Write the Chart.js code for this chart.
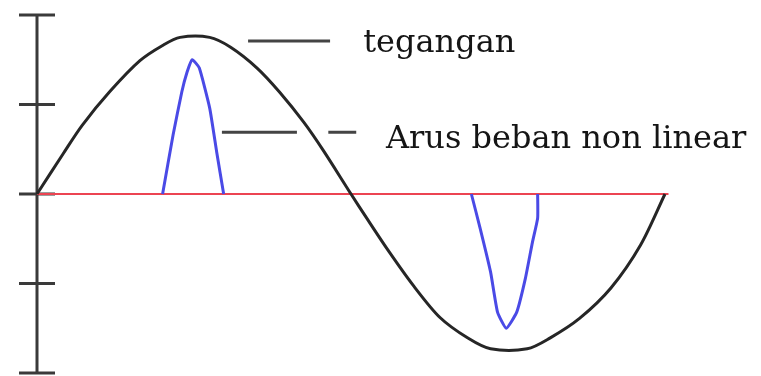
<!DOCTYPE html>
<html>
<head>
<meta charset="utf-8">
<script src="https://cdn.jsdelivr.net/npm/chart.js@4.4.1/dist/chart.umd.min.js"></script>
<style>
  html, body { margin: 0; padding: 0; background: #fff; }
</style>
</head>
<body>
<canvas id="wave" width="761" height="376"></canvas>
<script>
// x = phase angle (degrees), y = amplitude in axis divisions
const voltageX = [0, 15, 26, 42, 59, 72, 82, 99, 111, 126, 139, 153, 164, 180, 189, 202, 216, 231, 247, 260, 281, 294, 311, 329, 346, 360];
const voltageY = [0, 0.45, 0.77, 1.15, 1.49, 1.66, 1.75, 1.75, 1.64, 1.41, 1.14, 0.80, 0.49, 0, -0.27, -0.65, -1.03, -1.38, -1.61, -1.73, -1.73, -1.61, -1.39, -1.05, -0.57, 0];

// current pulses of the non linear load
const currentPosX = [72, 78, 83, 86, 89, 93, 99, 103, 107];
const currentPosY = [0, 0.66, 1.14, 1.36, 1.50, 1.41, 0.96, 0.47, 0];
const currentNegX = [249, 254, 260, 264, 269, 275, 280, 284, 287, 287];
const currentNegY = [0, -0.38, -0.87, -1.32, -1.50, -1.32, -0.94, -0.54, -0.27, 0];

// zero line
const zeroX = [0, 362];
const zeroY = [0, 0];

const yTicks = [-2, -1, 0, 1, 2];

// callout lines and their texts
const leaderX0 = [121, 106, 167];
const leaderX1 = [168, 149, 183];
const leaderY = [1.71, 0.69, 0.69];
const labelText = ['tegangan', 'Arus beban non linear'];
const labelX = [187, 200];
const labelY = [1.59, 0.51];

const pts = (xs, ys) => xs.map((x, i) => ({ x, y: ys[i] }));

const axisPlugin = {
  id: 'vAxis',
  beforeDatasetsDraw(chart) {
    const { ctx, scales: { x, y } } = chart;
    const px = x.getPixelForValue(0);
    ctx.save();
    ctx.strokeStyle = '#3a3a3a';
    ctx.lineWidth = 3;
    ctx.beginPath();
    ctx.moveTo(px, y.getPixelForValue(Math.max(...yTicks)));
    ctx.lineTo(px, y.getPixelForValue(Math.min(...yTicks)));
    yTicks.forEach(t => {
      const py = y.getPixelForValue(t);
      ctx.moveTo(px - 18, py);
      ctx.lineTo(px + 18, py);
    });
    ctx.stroke();
    ctx.restore();
  }
};

const calloutPlugin = {
  id: 'callouts',
  afterDatasetsDraw(chart) {
    const { ctx, scales: { x, y } } = chart;
    ctx.save();
    ctx.strokeStyle = '#444';
    ctx.lineWidth = 3;
    ctx.beginPath();
    leaderX0.forEach((x0, i) => {
      const py = y.getPixelForValue(leaderY[i]);
      ctx.moveTo(x.getPixelForValue(x0), py);
      ctx.lineTo(x.getPixelForValue(leaderX1[i]), py);
    });
    ctx.stroke();
    ctx.fillStyle = '#151515';
    ctx.font = '32px "DejaVu Serif"';
    ctx.textBaseline = 'alphabetic';
    labelText.forEach((t, i) => {
      ctx.fillText(t, x.getPixelForValue(labelX[i]), y.getPixelForValue(labelY[i]));
    });
    ctx.restore();
  }
};

new Chart(document.getElementById('wave'), {
  type: 'scatter',
  data: {
    datasets: [
      {
        data: pts(voltageX, voltageY),
        showLine: true,
        borderColor: '#262626',
        borderWidth: 3,
        tension: 0.3,
        clip: false
      },
      {
        data: pts(currentPosX, currentPosY),
        showLine: true,
        borderColor: '#4a4ae6',
        borderWidth: 3,
        tension: 0.15,
        clip: false
      },
      {
        data: pts(currentNegX, currentNegY),
        showLine: true,
        borderColor: '#4a4ae6',
        borderWidth: 3,
        tension: 0.15,
        clip: false
      },
      {
        data: pts(zeroX, zeroY),
        showLine: true,
        borderColor: '#ec4452',
        borderWidth: 2,
        clip: false
      }
    ]
  },
  options: {
    responsive: false,
    devicePixelRatio: 1,
    animation: false,
    layout: { padding: { left: 37, right: 96, top: 15, bottom: 3 } },
    elements: { point: { radius: 0, hoverRadius: 0 } },
    plugins: { legend: { display: false }, tooltip: { enabled: false } },
    scales: {
      x: { type: 'linear', min: 0, max: 360, display: false },
      y: { type: 'linear', min: -2, max: 2, display: false }
    }
  },
  plugins: [axisPlugin, calloutPlugin]
});
</script>
</body>
</html>
